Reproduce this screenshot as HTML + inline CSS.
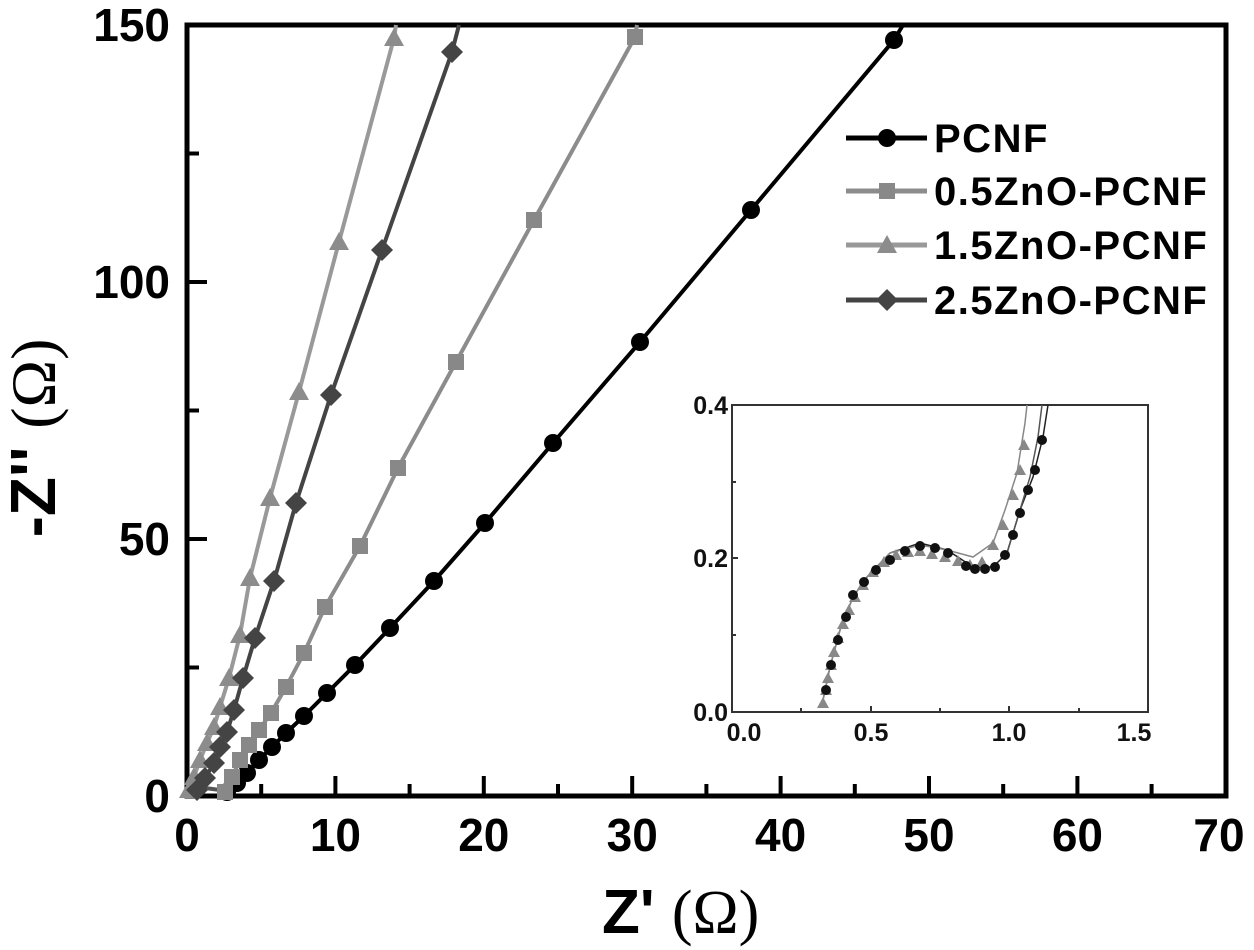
<!DOCTYPE html>
<html><head><meta charset="utf-8"><style>
html,body{margin:0;padding:0;background:#fff;}
svg{display:block;font-family:"Liberation Sans",Arial,sans-serif;}
</style></head><body>
<svg width="1254" height="950" viewBox="0 0 1254 950" xmlns="http://www.w3.org/2000/svg">
<defs>
<circle id="c" r="9" fill="#000"/>
<rect id="s" x="-8" y="-8" width="16" height="16" fill="#888"/>
<polygon id="t" points="0,-10 10,8 -10,8" fill="#8c8c8c"/>
<polygon id="d" points="0,-11 11,0 0,11 -11,0" fill="#444"/>
<circle id="ic" r="5" fill="#111"/>
<polygon id="it" points="0,-6 6,5 -6,5" fill="#888"/>
</defs>
<rect x="187" y="25" width="1039" height="771" fill="none" stroke="#000" stroke-width="5"/>
<g stroke="#000" stroke-width="4">
<path d="M335.4 796v-20M483.8 796v-20M632.2 796v-20M780.6 796v-20M929 796v-20M1077.4 796v-20"/>
<path d="M261.2 796v-12M409.6 796v-12M558 796v-12M706.4 796v-12M854.8 796v-12M1003.2 796v-12M1151.6 796v-12"/>
<path d="M187 539h20M187 282h20M187 667.5h12M187 410.5h12M187 153.5h12"/>
</g>
<g font-size="46" font-weight="bold" text-anchor="middle" fill="#000">
<text x="187" y="851">0</text><text x="335.4" y="851">10</text><text x="483.8" y="851">20</text><text x="632.2" y="851">30</text><text x="780.6" y="851">40</text><text x="929" y="851">50</text><text x="1077.4" y="851">60</text><text x="1219" y="851">70</text>
</g>
<g font-size="46" font-weight="bold" text-anchor="end" fill="#000">
<text x="170" y="812">0</text><text x="170" y="555">50</text><text x="170" y="298">100</text><text x="170" y="41">150</text>
</g>
<text x="602" y="933" font-size="62" font-weight="bold">Z' <tspan font-family="Liberation Serif,serif" font-weight="normal">(Ω)</tspan></text>
<text transform="translate(55,438) rotate(-90)" font-size="64" font-weight="bold" text-anchor="middle">-Z'' <tspan font-family="Liberation Serif,serif" font-weight="normal">(Ω)</tspan></text>

<g fill="none" stroke-width="4" stroke-linejoin="round">
<polyline stroke="#000" points="227,792 237,783 247,773 259,760 272,747 286,733 304,716 327,693 355,665 390,628 434,581 485,523 553,443 640,342 751,210 894,40 903,25"/>
<polyline stroke="#8c8c8c" points="225,792 232,777 240,760 249,745 259,730 271,713 286,687 304,653 325,607 360,546 398,468 456,362 534,220 635,37 637,25"/>
<polyline stroke="#999" points="189,790 194,777 200,760 207,743 214,727 220,707 229,678 240,635 250,578 270,498 299,392 339,242 394,38 396,25"/>
<polyline stroke="#444" points="197,790 205,778 214,763 220,747 227,732 234,710 243,678 255,638 274,581 296,503 331,395 382,250 452,52 459,25"/>
<polyline stroke="#555" points="187,795 195,790 205,788 220,790 235,795"/>
</g>
<g>
<use href="#c" x="227" y="792"/><use href="#c" x="237" y="783"/><use href="#c" x="247" y="773"/><use href="#c" x="259" y="760"/><use href="#c" x="272" y="747"/><use href="#c" x="286" y="733"/><use href="#c" x="304" y="716"/><use href="#c" x="327" y="693"/><use href="#c" x="355" y="665"/><use href="#c" x="390" y="628"/><use href="#c" x="434" y="581"/><use href="#c" x="485" y="523"/><use href="#c" x="553" y="443"/><use href="#c" x="640" y="342"/><use href="#c" x="751" y="210"/><use href="#c" x="894" y="40"/>
<use href="#s" x="225" y="792"/><use href="#s" x="232" y="777"/><use href="#s" x="240" y="760"/><use href="#s" x="249" y="745"/><use href="#s" x="259" y="730"/><use href="#s" x="271" y="713"/><use href="#s" x="286" y="687"/><use href="#s" x="304" y="653"/><use href="#s" x="325" y="607"/><use href="#s" x="360" y="546"/><use href="#s" x="398" y="468"/><use href="#s" x="456" y="362"/><use href="#s" x="534" y="220"/><use href="#s" x="635" y="37"/>
<use href="#t" x="189" y="790"/><use href="#t" x="194" y="777"/><use href="#t" x="200" y="760"/><use href="#t" x="207" y="743"/><use href="#t" x="214" y="727"/><use href="#t" x="220" y="707"/><use href="#t" x="229" y="678"/><use href="#t" x="240" y="635"/><use href="#t" x="250" y="578"/><use href="#t" x="270" y="498"/><use href="#t" x="299" y="392"/><use href="#t" x="339" y="242"/><use href="#t" x="394" y="38"/>
<use href="#d" x="197" y="790"/><use href="#d" x="205" y="778"/><use href="#d" x="214" y="763"/><use href="#d" x="220" y="747"/><use href="#d" x="227" y="732"/><use href="#d" x="234" y="710"/><use href="#d" x="243" y="678"/><use href="#d" x="255" y="638"/><use href="#d" x="274" y="581"/><use href="#d" x="296" y="503"/><use href="#d" x="331" y="395"/><use href="#d" x="382" y="250"/><use href="#d" x="452" y="52"/>
</g>

<g stroke-width="5">
<line x1="846" y1="138" x2="927" y2="138" stroke="#000"/>
<line x1="846" y1="191" x2="927" y2="191" stroke="#8c8c8c"/>
<line x1="846" y1="245" x2="927" y2="245" stroke="#999"/>
<line x1="846" y1="300" x2="927" y2="300" stroke="#444"/>
</g>
<use href="#c" x="887" y="138"/><use href="#s" x="887" y="191"/><use href="#t" x="887" y="245"/><use href="#d" x="887" y="300"/>
<g font-size="40" font-weight="bold" fill="#000" letter-spacing="1.5">
<text x="934" y="152">PCNF</text><text x="934" y="205">0.5ZnO-PCNF</text><text x="934" y="259">1.5ZnO-PCNF</text><text x="934" y="314">2.5ZnO-PCNF</text>
</g>

<rect x="732" y="405" width="416" height="307" fill="#fff" stroke="#333" stroke-width="2"/>
<g stroke="#333" stroke-width="2">
<path d="M801 712v-4M871 712v-6M940 712v-4M1009 712v-6M1079 712v-4M732 635h4M732 558h6M732 482h4"/>
</g>
<g font-size="25" font-weight="bold" fill="#111">
<text x="728" y="414" text-anchor="end">0.4</text><text x="728" y="567" text-anchor="end">0.2</text><text x="728" y="721" text-anchor="end">0.0</text>
<g text-anchor="middle"><text x="744" y="741">0.0</text><text x="871" y="741">0.5</text><text x="1009" y="741">1.0</text><text x="1134" y="741">1.5</text></g>
</g>
<g fill="none" stroke-width="1.5">
<polyline stroke="#222" points="823,700 830,667 840,630 853,597 867,577 890,553 920,543 947,550 973,567 993,567 1007,553 1020,510 1033,477 1043,437 1048,405"/>
<polyline stroke="#888" points="823,700 830,667 840,630 853,597 867,577 890,553 920,545 947,550 973,557 993,543 1005,510 1017,473 1025,423 1027,405"/>
<polyline stroke="#555" points="1007,553 1020,510 1030,477 1038,437 1042,405"/>
</g>
<g>
<use href="#it" x="823" y="703"/><use href="#it" x="826" y="690"/><use href="#it" x="828" y="678"/><use href="#it" x="831" y="665"/><use href="#it" x="834" y="652"/><use href="#it" x="838" y="638"/><use href="#it" x="843" y="624"/><use href="#it" x="849" y="610"/><use href="#it" x="855" y="597"/><use href="#it" x="863" y="585"/><use href="#it" x="873" y="572"/><use href="#it" x="884" y="562"/><use href="#it" x="896" y="555"/><use href="#it" x="908" y="552"/><use href="#it" x="920" y="551"/><use href="#it" x="932" y="554"/><use href="#it" x="945" y="557"/><use href="#it" x="958" y="561"/><use href="#it" x="970" y="565"/><use href="#it" x="982" y="562"/><use href="#it" x="993" y="545"/><use href="#it" x="1003" y="525"/><use href="#it" x="1013" y="495"/><use href="#it" x="1020" y="470"/><use href="#it" x="1024" y="445"/>
<use href="#ic" x="826" y="690"/><use href="#ic" x="831" y="665"/><use href="#ic" x="838" y="640"/><use href="#ic" x="846" y="617"/><use href="#ic" x="853" y="595"/><use href="#ic" x="864" y="582"/><use href="#ic" x="876" y="570"/><use href="#ic" x="890" y="560"/><use href="#ic" x="905" y="551"/><use href="#ic" x="920" y="546"/><use href="#ic" x="935" y="548"/><use href="#ic" x="948" y="553"/><use href="#ic" x="966" y="566"/><use href="#ic" x="975" y="569"/><use href="#ic" x="985" y="569"/><use href="#ic" x="995" y="567"/><use href="#ic" x="1005" y="555"/><use href="#ic" x="1013" y="535"/><use href="#ic" x="1020" y="513"/><use href="#ic" x="1028" y="490"/><use href="#ic" x="1035" y="470"/><use href="#ic" x="1042" y="440"/>
</g>
</svg>
</body></html>
